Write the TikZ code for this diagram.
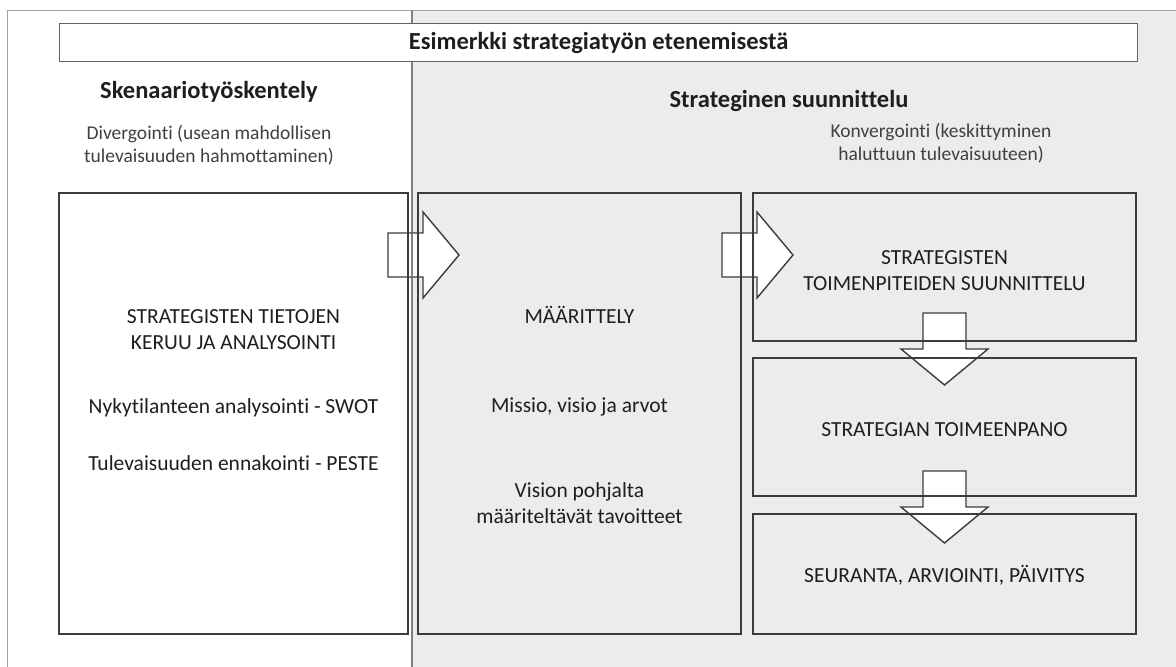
\documentclass[tikz,border=0pt]{standalone}
\usepackage{fontspec}
\setmainfont{Carlito}[Ligatures=NoCommon]
\usetikzlibrary{calc}
\definecolor{panel}{RGB}{236,236,236}
\definecolor{edge}{RGB}{60,60,60}
\definecolor{frameline}{RGB}{160,160,160}
\definecolor{inkgray}{RGB}{30,30,30}
\begin{document}
\begin{tikzpicture}[x=1pt,y=-1pt,
  stagebox/.style={draw=edge,line width=1.6pt,inner sep=0pt,outer sep=0pt,anchor=north west},
  outline/.style={draw=edge,line width=1.6pt},
  arrowshape/.style={draw=edge,line width=1.4pt,fill=white,line join=miter},
  titlefont/.style={font=\fontsize{24.5}{29}\selectfont\bfseries,text=inkgray},
  heading/.style={font=\fontsize{24.5}{29}\selectfont\bfseries,text=inkgray},
  note/.style={font=\fontsize{19.5}{23}\selectfont,text=inkgray!85,align=center},
  body/.style={font=\fontsize{21.5}{26}\selectfont,text=inkgray,align=center},
  rarrow/.pic={\path[arrowshape] (-35,-22) -- (0,-22) -- (0,-43) -- (36,0) -- (0,43) -- (0,22) -- (-35,22) -- cycle;},
  darrow/.pic={\path[arrowshape] (-21.5,-36) -- (21.5,-36) -- (21.5,0) -- (43.5,0) -- (0,36) -- (-43.5,0) -- (-21.5,0) -- cycle;}
]
\useasboundingbox (0,0) rectangle (1176,667);
\fill[white] (0,0) rectangle (1176,667);
% strategic planning panel
\fill[panel] (412,10) rectangle (1176,667);
\draw[frameline,line width=1pt] (7,667) -- (7,10) -- (1176,10);
\draw[frameline!80!black,line width=1.4pt] (412,10) -- (412,667);

% title bar
\node[draw=edge!80,line width=1.4pt,fill=white,inner sep=0pt,anchor=north west,
      minimum width=1078,minimum height=38] (title) at (59,23) {};
\node[titlefont] (titletext) at (title.center) {Esimerkki strategiatyön etenemisestä};

% column headings
\node[heading] (scen) at (209,92) {Skenaariotyöskentely};
\node[note] (diverg) at (209,145) {Divergointi (usean mahdollisen\\tulevaisuuden hahmottaminen)};
\node[heading] (strat) at (789,101) {Strateginen suunnittelu};
\node[note] (converg) at (941,143) {Konvergointi (keskittyminen\\haluttuun tulevaisuuteen)};

% stage boxes
\node[stagebox,fill=white,minimum width=349,minimum height=441] (L) at (59,193) {};
\node[stagebox,minimum width=323,minimum height=441] (M) at (418,193) {};
\node[stagebox,minimum width=383,minimum height=148] (R1) at (753,193) {};
\node[stagebox,minimum width=383,minimum height=138] (R2) at (753,358) {};
\node[stagebox,minimum width=383,minimum height=120] (R3) at (753,514) {};

% flow arrows
\coordinate (a1) at ($(M.north west)+(5,62)$);
\coordinate (a2) at ($(R1.north west)+(4,62)$);
\coordinate (a3) at ($(R1.south)+(0,8)$);
\coordinate (a4) at ($(R2.south)+(0,11)$);
\pic at (a1) {rarrow};
\pic at (a2) {rarrow};
\pic at (a3) {darrow};
\pic at (a4) {darrow};

% box edges stay visible through the arrows
\draw[frameline!80!black,line width=1.4pt] (412,277) -- (412,233);
\foreach \b in {L,M,R1,R2,R3}{\draw[outline] (\b.north west) rectangle (\b.south east);}

% box texts
\node[body] (Lt1) at ($(L.north)+(0,137)$) {STRATEGISTEN TIETOJEN\\KERUU JA ANALYSOINTI};
\node[body] (Lt2) at ($(L.north)+(0,215)$) {Nykytilanteen analysointi - SWOT};
\node[body] (Lt3) at ($(L.north)+(0,270)$) {Tulevaisuuden ennakointi - PESTE};
\node[body] (Mt1) at ($(M.north)+(0,122)$) {MÄÄRITTELY};
\node[body] (Mt2) at ($(M.north)+(0,214)$) {Missio, visio ja arvot};
\node[body] (Mt3) at ($(M.north)+(0,310)$) {Vision pohjalta\\määriteltävät tavoitteet};
\node[body] (R1t) at ($(R1.north)+(0,78)$) {STRATEGISTEN\\TOIMENPITEIDEN SUUNNITTELU};
\node[body] (R2t) at ($(R2.north)+(0,72)$) {STRATEGIAN TOIMEENPANO};
\node[body] (R3t) at ($(R3.north)+(0,61)$) {SEURANTA, ARVIOINTI, PÄIVITYS};
\end{tikzpicture}
\end{document}
